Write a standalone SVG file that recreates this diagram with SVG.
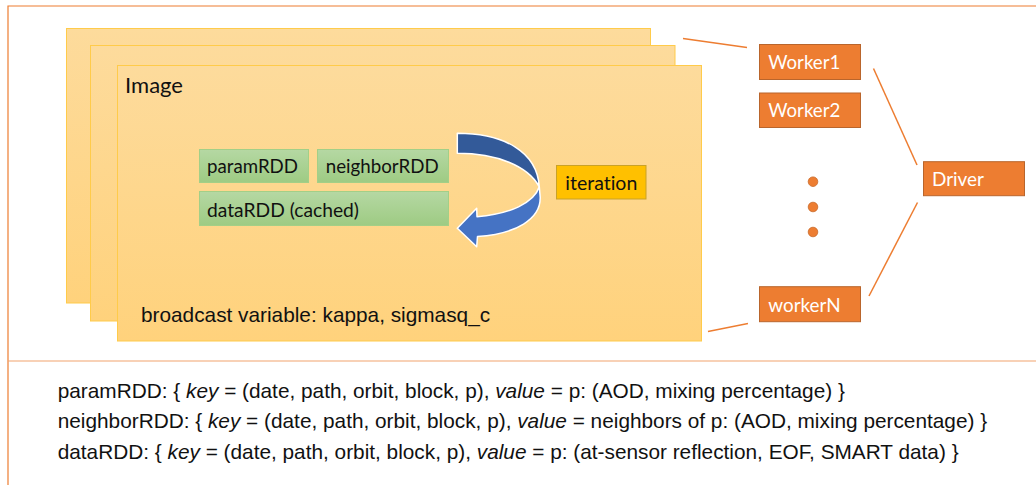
<svg xmlns="http://www.w3.org/2000/svg" width="1036" height="485" viewBox="0 0 1036 485">
  <style>
    .frame { stroke: #ED7D31; stroke-width: 1.2; fill: none; }
    .sep { stroke: #F2A36E; stroke-width: 1.2; fill: none; }
    .card { fill: url(#cardFill); stroke: #FFCB4A; stroke-width: 1; }
    .rdd { fill: url(#rddFill); stroke: #A3CF87; stroke-width: 1; }
    .iter { fill: #FFC000; stroke: #C9A227; stroke-width: 1; }
    .node { fill: #ED7D31; stroke: #B9652C; stroke-width: 1; }
    .dot { fill: #ED7D31; stroke: #C8692A; stroke-width: 0.8; }
    .link { stroke: #ED7D31; stroke-width: 1.5; fill: none; }
    .lbl { font-family: Lato, "Open Sans", sans-serif; fill: #111; font-variant-ligatures: none; }
    .wlbl { font-family: Lato, "Open Sans", sans-serif; fill: #FFFFFF; font-size: 19.5px; font-variant-ligatures: none; }
    .body { font-family: "Liberation Sans", Arial, sans-serif; fill: #111; font-size: 20.8px; }
    .arrow-back { fill: #335A99; stroke: #FFFFFF; stroke-width: 1.5; stroke-linejoin: round; }
    .arrow-front { fill: #4573C4; stroke: #FFFFFF; stroke-width: 1.5; stroke-linejoin: round; }
  </style>
  <defs>
    <linearGradient id="cardFill" x1="0" y1="0" x2="0" y2="1">
      <stop offset="0" stop-color="#FDDB9C"/>
      <stop offset="1" stop-color="#FFD27C"/>
    </linearGradient>
    <linearGradient id="rddFill" x1="0" y1="0" x2="0" y2="1">
      <stop offset="0" stop-color="#B5D8A3"/>
      <stop offset="1" stop-color="#9ECB83"/>
    </linearGradient>
  </defs>

  <rect width="1036" height="485" fill="#FFFFFF"/>

  <!-- outer frame and section divider -->
  <path class="frame" d="M8,485 V6 H1036"/>
  <path class="sep" d="M8,361 H1036"/>

  <!-- connectors -->
  <g id="connectors">
    <line class="link" x1="683" y1="38.5" x2="747" y2="47.5"/>
    <line class="link" x1="873.5" y1="68.5" x2="917" y2="165"/>
    <line class="link" x1="917.5" y1="202.5" x2="869" y2="296"/>
    <line class="link" x1="708" y1="331.5" x2="748" y2="323.5"/>
  </g>

  <!-- stacked image cards -->
  <g id="image-stack">
    <rect class="card" x="66.5" y="28.5" width="584" height="274.5"/>
    <rect class="card" x="90.5" y="45.5" width="584.5" height="275.5"/>
    <rect class="card" x="117.5" y="65.5" width="584" height="275.5"/>
    <text class="lbl" x="125" y="92.5" font-size="21.5" textLength="58" lengthAdjust="spacingAndGlyphs">Image</text>
  </g>

  <g id="paramRDD">
    <rect class="rdd" x="199.5" y="149.5" width="109" height="33"/>
    <text class="lbl" x="207" y="173.3" font-size="19.5" textLength="91" lengthAdjust="spacingAndGlyphs">paramRDD</text>
  </g>
  <g id="neighborRDD">
    <rect class="rdd" x="317.5" y="149.5" width="131" height="33"/>
    <text class="lbl" x="325.7" y="173.3" font-size="19.5" textLength="113" lengthAdjust="spacingAndGlyphs">neighborRDD</text>
  </g>
  <g id="dataRDD">
    <rect class="rdd" x="199.5" y="191.5" width="249" height="34"/>
    <text class="lbl" x="207" y="216.7" font-size="19.5" textLength="152" lengthAdjust="spacingAndGlyphs">dataRDD (cached)</text>
  </g>

  <!-- loop arrow -->
  <g id="loop-arrow">
    <path class="arrow-back" d="M457.3,133.3 C505,133.5 537,152 539.3,186.8 C528,166 497,153.3 457.3,153.3 Z"/>
    <path class="arrow-front" d="M539.3,186.8 C534,203 510,214 477,216.7 L476.7,208.3 L457.3,228.3 L476.7,246.7 L477.5,236.5 C516,234 541,219 540.2,197 Z"/>
  </g>

  <g id="iteration">
    <rect class="iter" x="556.5" y="165.5" width="89.5" height="33.5"/>
    <text class="lbl" x="565.3" y="190" font-size="19.5" textLength="72" lengthAdjust="spacingAndGlyphs">iteration</text>
  </g>

  <g id="broadcast">
    <text class="body" x="141" y="322">broadcast variable: kappa, sigmasq_c</text>
  </g>

  <!-- cluster -->
  <g id="worker1">
    <rect class="node" x="759.5" y="44.5" width="101" height="35"/>
    <text class="wlbl" x="768.3" y="69" textLength="72" lengthAdjust="spacingAndGlyphs">Worker1</text>
  </g>
  <g id="worker2">
    <rect class="node" x="759.5" y="93" width="101" height="34.5"/>
    <text class="wlbl" x="768.3" y="117.3" textLength="72" lengthAdjust="spacingAndGlyphs">Worker2</text>
  </g>
  <g id="ellipsis">
    <circle class="dot" cx="813" cy="181.7" r="4.8"/>
    <circle class="dot" cx="813" cy="207" r="4.8"/>
    <circle class="dot" cx="813" cy="232" r="4.8"/>
  </g>
  <g id="workerN">
    <rect class="node" x="759.5" y="286.7" width="101" height="35"/>
    <text class="wlbl" x="768.3" y="311.7" textLength="72.4" lengthAdjust="spacingAndGlyphs">workerN</text>
  </g>
  <g id="driver">
    <rect class="node" x="923.5" y="161.7" width="101" height="34"/>
    <text class="wlbl" x="932" y="185.7" textLength="52" lengthAdjust="spacingAndGlyphs">Driver</text>
  </g>

  <!-- RDD definitions -->
  <g id="legend">
    <text class="body" x="57.7" y="397.5">paramRDD: { <tspan font-style="italic">key</tspan> = (date, path, orbit, block, p), <tspan font-style="italic">value</tspan> = p: (AOD, mixing percentage) }</text>
    <text class="body" x="57.7" y="428">neighborRDD: { <tspan font-style="italic">key</tspan> = (date, path, orbit, block, p), <tspan font-style="italic">value</tspan> = neighbors of p: (AOD, mixing percentage) }</text>
    <text class="body" x="57.7" y="458.5">dataRDD: { <tspan font-style="italic">key</tspan> = (date, path, orbit, block, p), <tspan font-style="italic">value</tspan> = p: (at-sensor reflection, EOF, SMART data) }</text>
  </g>
</svg>
